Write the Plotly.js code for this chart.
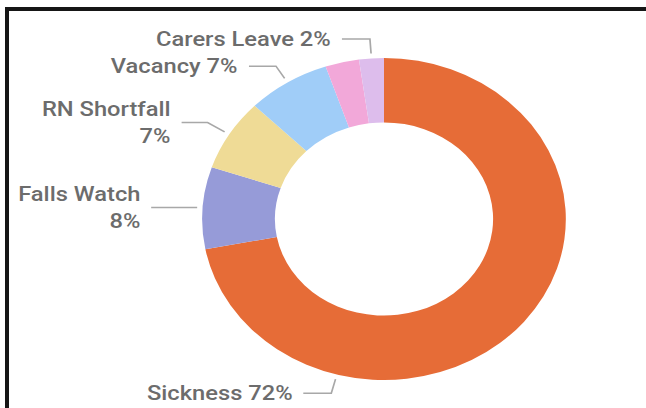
<!DOCTYPE html>
<html><head><meta charset="utf-8">
<script src="https://cdn.plot.ly/plotly-3.0.1.min.js"></script>
<style>
html,body{margin:0;padding:0;background:#fff;overflow:hidden;}
#wrap{position:absolute;left:0;top:0;width:646px;height:408px;overflow:hidden;background:#fff;}
#chart{position:absolute;left:0;top:0;width:572px;height:408px;transform:scaleX(1.12937);transform-origin:0 0;}
#frame{position:absolute;left:5px;top:7px;width:700px;height:500px;border-top:4px solid #161616;border-left:4px solid #161616;pointer-events:none;}
</style></head><body>
<div id="wrap"><div id="chart"></div><div id="frame"></div></div>
<script>
// ---- data ----
const categories = ['Sickness', 'Falls Watch', 'RN Shortfall', 'Vacancy', 'Other', 'Carers Leave'];
const values = [72.0, 8.2, 7.2, 7.4, 3.0, 2.2];
const colors = ['#E66C37', '#969BD8', '#EFDB96', '#A0CDF8', '#F2A8D9', '#DDBDEC'];
const showLabel = [true, true, true, true, false, true];
const twoLineLabel = [false, true, true, false, false, false];

// ---- layout constants (pixels, before the horizontal stretch) ----
const W = 572, H = 408, S = 646 / 572;
const CX = 384 / S, CY = 219, R = 161;
const leaderElbow = [1.12, 1.03, 1.14, 1.12, 1.12, 1.12];
const leaderRun = [28, 46, 26, 27, 27, 28].map(v => v / S);
const labelGap = 9 / S;
const anchorOverride = [195, null, null, null, null, null];

const total = values.reduce((a, b) => a + b, 0);
const px = x => x / W, py = y => 1 - y / H;

const annotations = [], shapes = [];
let cum = 0;
values.forEach((v, i) => {
  const start = cum / total * 360;
  cum += v;
  const end = cum / total * 360;
  if (!showLabel[i]) return;
  const ang = (anchorOverride[i] !== null ? anchorOverride[i] : (start + end) / 2) * Math.PI / 180;
  const sx = Math.sin(ang), cy = -Math.cos(ang);
  const x0 = CX + 1.03 * R * sx, y0 = CY + 1.03 * R * cy;
  const x1 = CX + leaderElbow[i] * R * sx, y1 = CY + leaderElbow[i] * R * cy;
  const x2 = x1 - leaderRun[i];
  shapes.push({
    type: 'path', xref: 'paper', yref: 'paper',
    path: `M ${px(x0)},${py(y0)} L ${px(x1)},${py(y1)} L ${px(x2)},${py(y1)}`,
    line: {color: '#A8A8A8', width: 1.5}
  });
  const pct = Math.round(v / total * 100) + '%';
  annotations.push({
    xref: 'paper', yref: 'paper', x: px(x2 - labelGap), y: py(y1),
    xanchor: 'right', yanchor: 'middle', align: 'right', showarrow: false,
    text: categories[i] + (twoLineLabel[i] ? '<br>' : ' ') + pct,
    font: {family: 'Roboto, sans-serif', size: 21, weight: 500, color: '#6c6c6c'}
  });
});

const trace = {
  type: 'pie', labels: categories, values: values, hole: 0.6,
  sort: false, direction: 'clockwise', rotation: 0,
  marker: {colors: colors, line: {width: 0}},
  textinfo: 'none', textposition: 'none', automargin: false, showlegend: false,
  domain: {x: [px(CX - R), px(CX + R)], y: [py(CY + R), py(CY - R)]},
  hoverinfo: 'label+percent'
};

Plotly.newPlot('chart', [trace], {
  width: W, height: H, margin: {l: 0, r: 0, t: 0, b: 0},
  paper_bgcolor: 'rgba(0,0,0,0)', plot_bgcolor: 'rgba(0,0,0,0)',
  showlegend: false, annotations: annotations, shapes: shapes
}, {displayModeBar: false, staticPlot: true});
</script>
</body></html>
